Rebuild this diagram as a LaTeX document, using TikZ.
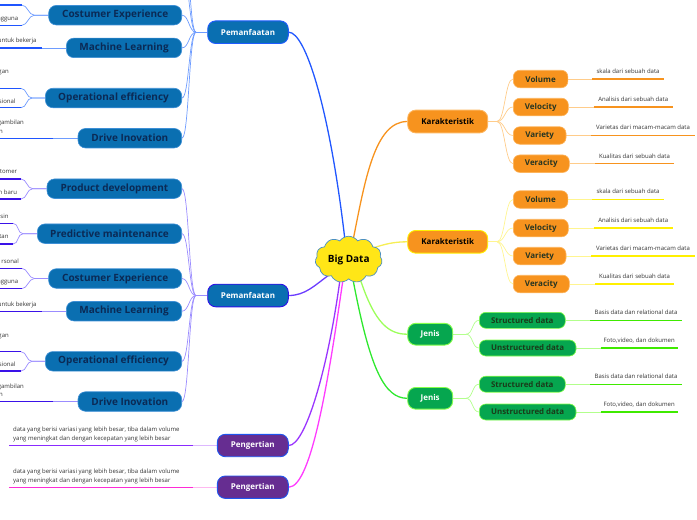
\documentclass[tikz,border=0pt]{standalone}
\usepackage{fontspec}
\setmainfont{Open Sans}
\usetikzlibrary{shapes.symbols}
\pgfdeclarelayer{bg}
\pgfsetlayers{bg,main}
\definecolor{orfill}{HTML}{F7931E}
\definecolor{orbord}{HTML}{FDB45C}
\definecolor{ortext}{HTML}{263522}
\definecolor{orlight}{HTML}{FFCC8A}
\definecolor{yline}{HTML}{F6EE55}
\definecolor{ylight}{HTML}{FFF590}
\definecolor{yunder}{HTML}{FFF000}
\definecolor{grfill}{HTML}{06A64F}
\definecolor{grbord}{HTML}{85FF4A}
\definecolor{grtext}{HTML}{1A3B1A}
\definecolor{gline}{HTML}{9CFF5A}
\definecolor{glinetwo}{HTML}{2EE82E}
\definecolor{glight}{HTML}{B2FF8C}
\definecolor{gunder}{HTML}{3FEA00}
\definecolor{bluefill}{HTML}{0A6FB1}
\definecolor{bluebord}{HTML}{3D8FD6}
\definecolor{bluetext}{HTML}{0B2A55}
\definecolor{pemabord}{HTML}{1F5BFF}
\definecolor{pembbord}{HTML}{2F10E8}
\definecolor{pemaline}{HTML}{2157FF}
\definecolor{pemalight}{HTML}{6E9CFF}
\definecolor{pemaunder}{HTML}{1F55FF}
\definecolor{pembline}{HTML}{6B3CFF}
\definecolor{pemblight}{HTML}{9B8CFF}
\definecolor{pembunder}{HTML}{3A12E8}
\definecolor{pgfill}{HTML}{662D91}
\definecolor{pgbord}{HTML}{1F55EE}
\definecolor{pgaline}{HTML}{9A35FF}
\definecolor{pgaunder}{HTML}{8A2BFF}
\definecolor{pgalight}{HTML}{DDB8FF}
\definecolor{pgbline}{HTML}{FF3BFF}
\definecolor{pgbunder}{HTML}{FF2BD6}
\definecolor{pgblight}{HTML}{FFB8F0}
\definecolor{cloudfill}{HTML}{FFE617}
\definecolor{cloudbord}{HTML}{4A8FC4}
\definecolor{leafgray}{HTML}{333333}
\tikzset{
 fan/.style={line width=0.7pt},
 under/.style={line width=1.2pt},
 bdline/.style={line width=1.3pt},
 ltext/.style={font=\fontsize{6}{7}\selectfont, text=leafgray, inner sep=0pt},
 lefttext/.style={ltext, anchor=base east},
 kbox/.style={fill=orfill, line width=0.9pt, rounded corners=8pt, minimum width=80pt, minimum height=22.7pt, inner sep=0pt, font=\fontsize{8}{9}\selectfont\bfseries, text=black},
 obox/.style={draw=orbord, fill=orfill, line width=0.6pt, rounded corners=6.5pt, minimum height=17.5pt, inner sep=0pt, anchor=west, font=\fontsize{8}{9}\selectfont\bfseries, text=ortext},
 jbox/.style={draw=grbord, fill=grfill, line width=0.9pt, rounded corners=8pt, minimum width=45pt, minimum height=21.7pt, inner sep=0pt, font=\fontsize{8}{9}\selectfont\bfseries, text=white},
 gbox/.style={draw=grbord, fill=grfill, line width=0.6pt, rounded corners=6.5pt, minimum height=16pt, inner sep=0pt, anchor=west, font=\fontsize{7.9}{9}\selectfont\bfseries, text=grtext},
 pembox/.style={fill=bluefill, line width=0.9pt, rounded corners=8pt, minimum width=80.6pt, minimum height=22.6pt, inner sep=0pt, font=\fontsize{8}{9}\selectfont\bfseries, text=white},
 lbox/.style={draw=bluebord, fill=bluefill, line width=0.6pt, rounded corners=7.5pt, minimum height=19.5pt, inner sep=0pt, anchor=east, font=\fontsize{10}{12}\selectfont\bfseries, text=bluetext},
 pgbox/.style={draw=pgbord, fill=pgfill, line width=0.9pt, rounded corners=8pt, minimum width=71pt, minimum height=22.4pt, inner sep=0pt, font=\fontsize{8}{9}\selectfont\bfseries, text=white},
}
% common part of a Pemanfaatan branch: #1 prefix, #2 fan, #3 underline, #4 leaf fan, #5 border
\newcommand{\pemcore}[5]{%
 \node[pembox, draw=#5] (#1pem) at (248,295.5) {Pemanfaatan};
 \node[lbox, minimum width=133pt] (#1cust) at (182,278.5) {Costumer Experience};
 \node[lbox, minimum width=115.3pt] (#1mach) at (182,311.2) {Machine Learning};
 \node[lbox, minimum width=136.3pt] (#1oper) at (182,361.3) {Operational efficiency};
 \node[lbox, minimum width=103.7pt] (#1drive) at (182,401.5) {Drive Inovation};
 \node[lefttext] (#1tF) at (18.3,283.7) {ngguna};
 \node[lefttext] (#1tG) at (36.7,306) {untuk bekerja};
 \node[lefttext] (#1tH) at (9,337) {gan};
 \node[lefttext] (#1tI) at (15.7,366.3) {sional};
 \node[lefttext] (#1tJ) at (24,388) {gambilan};
 \node[lefttext] (#1tK) at (3,396.3) {n};
 \coordinate (#1br) at (196,295.5);
 \coordinate (#1custA) at (21.7,268.3); \coordinate (#1custB) at (21.7,288.7);
 \coordinate (#1machA) at (41.7,311.2);
 \coordinate (#1operA) at (21,351.7); \coordinate (#1operB) at (21,371);
 \coordinate (#1driveA) at (53.3,401.5);
 \begin{pgfonlayer}{bg}
 \draw[fan, draw=#2] (#1pem.west) -- (#1br);
 \foreach \c in {cust,mach,oper,drive}
   \draw[fan, draw=#2] (#1br) .. controls +(-7,0) and +(7,0) .. (#1\c.east);
 \draw[fan, draw=#4] (#1cust.west) -- ++(-14,0) .. controls +(-6,0) and +(6,0) .. (#1custA);
 \draw[fan, draw=#4] (#1cust.west) -- ++(-14,0) .. controls +(-6,0) and +(6,0) .. (#1custB);
 \draw[fan, draw=#4] (#1oper.west) -- ++(-13,0) .. controls +(-6,0) and +(6,0) .. (#1operA);
 \draw[fan, draw=#4] (#1oper.west) -- ++(-13,0) .. controls +(-6,0) and +(6,0) .. (#1operB);
 \draw[fan, draw=#4] (#1mach.west) -- (#1machA);
 \draw[fan, draw=#4] (#1drive.west) -- (#1driveA);
 \foreach \c in {custA,custB,machA,operA,operB,driveA}
   \draw[under, draw=#3] (#1\c) -- ++(-90,0);
 \end{pgfonlayer}}
% #1 prefix, #2 K y, #3-#6 child y, #7 fan, #8 underline, #9 border
\newcommand{\kgroup}[9]{%
 \node[kbox, draw=#9] (#1k) at (447.7,#2) {Karakteristik};
 \node[obox, minimum width=54.6pt] (#1vol) at (513,#3) {Volume};
 \node[obox, minimum width=55pt] (#1vel) at (513,#4) {Velocity};
 \node[obox, minimum width=52.7pt] (#1var) at (513,#5) {Variety};
 \node[obox, minimum width=56pt] (#1ver) at (513,#6) {Veracity};
 \coordinate (#1kbr) at (497,#2);
 \coordinate (#1volA) at (592,#3); \coordinate (#1volB) at (664,#3);
 \coordinate (#1velA) at (593.7,#4); \coordinate (#1velB) at (672.7,#4);
 \coordinate (#1varA) at (591,#5); \coordinate (#1varB) at (695,#5);
 \coordinate (#1verA) at (595,#6); \coordinate (#1verB) at (674,#6);
 \node[ltext, anchor=base] (#1volT) at ({628},{#3-5.6}) {skala dari sebuah data};
 \node[ltext, anchor=base] (#1velT) at ({633.2},{#4-5.6}) {Analisis dari sebuah data};
 \node[ltext, anchor=base] (#1varT) at ({643},{#5-5.6}) {Varietas dari macam-macam data};
 \node[ltext, anchor=base] (#1verT) at ({634.5},{#6-5.6}) {Kualitas dari sebuah data};
 \begin{pgfonlayer}{bg}
 \draw[fan, draw=#7] (#1k.east) -- (#1kbr);
 \foreach \c in {vol,vel,var,ver}
   \draw[fan, draw=#7] (#1kbr) .. controls +(8,0) and +(-8,0) .. (#1\c.west);
 \foreach \c in {vol,vel,var,ver}{
   \draw[fan, draw=#7] (#1\c.east) -- (#1\c A);
   \draw[under, draw=#8] (#1\c A) -- (#1\c B);}
 \end{pgfonlayer}}
% #1 prefix, #2 J y, #3 #4 child y
\newcommand{\jgroup}[4]{%
 \node[jbox] (#1j) at (430.2,#2) {Jenis};
 \node[gbox, minimum width=86pt] (#1st) at (479,#3) {Structured data};
 \node[gbox, minimum width=96.7pt] (#1un) at (479,#4) {Unstructured data};
 \coordinate (#1jbr) at (466,#2);
 \coordinate (#1stA) at (590,#3); \coordinate (#1stB) at (682,#3);
 \coordinate (#1unA) at (600.7,#4); \coordinate (#1unB) at (677.7,#4);
 \node[ltext, anchor=base] (#1stT) at ({636},{#3-5.6}) {Basis data dan relational data};
 \node[ltext, anchor=base] (#1unT) at ({639.2},{#4-5.6}) {Foto,video, dan dokumen};
 \begin{pgfonlayer}{bg}
 \draw[fan, draw=glight] (#1j.east) -- (#1jbr);
 \foreach \c in {st,un}{
   \draw[fan, draw=glight] (#1jbr) .. controls +(7,0) and +(-7,0) .. (#1\c.west);
   \draw[fan, draw=glight] (#1\c.east) -- (#1\c A);
   \draw[under, draw=gunder] (#1\c A) -- (#1\c B);}
 \end{pgfonlayer}}
% #1 prefix, #2 y, #3 light, #4 underline, #5 border
\newcommand{\pggroup}[5]{%
 \node[pgbox, draw=#5] (#1pg) at (252.8,#2) {Pengertian};
 \coordinate (#1pgA) at (193,#2);
 \coordinate (#1pgB) at (9,#2);
 \node[ltext, anchor=base west] (#1pgTa) at ({13},{#2-14.2}) {data yang berisi variasi yang lebih besar, tiba dalam volume};
 \node[ltext, anchor=base west] (#1pgTb) at ({13},{#2-4.6}) {yang meningkat dan dengan kecepatan yang lebih besar};
 \begin{pgfonlayer}{bg}
 \draw[fan, draw=#3] (#1pg.west) -- (#1pgA);
 \draw[under, draw=#4] (#1pgA) -- (#1pgB);
 \end{pgfonlayer}}
\begin{document}
\begin{tikzpicture}[x=1pt,y=-1pt]
\useasboundingbox (0,0) rectangle (697,520);
\clip (0,0) rectangle (697,520);
\node[cloud, cloud puffs=11, cloud puff arc=110, aspect=1.5, draw=cloudbord, fill=cloudfill, line width=0.7pt, minimum width=67pt, minimum height=43pt, inner sep=0pt, font=\fontsize{10}{12}\selectfont\bfseries, text=black] (bd) at (348.7,259.5) {Big Data};
% upper Pemanfaatan branch (its first two children lie above the picture)
\begin{scope}[yshift=263.3pt]
 \pemcore{A}{pemalight}{pemaunder}{pemalight}{pemabord}
 \coordinate (Aprod) at (182,188.7);
 \coordinate (Apred) at (182,233.7);
 \begin{pgfonlayer}{bg}
 \draw[fan, draw=pemalight] (Abr) .. controls +(-7,0) and +(7,0) .. (Aprod);
 \draw[fan, draw=pemalight] (Abr) .. controls +(-7,0) and +(7,0) .. (Apred);
 \end{pgfonlayer}
\end{scope}
% lower Pemanfaatan branch
\pemcore{B}{pemblight}{pembunder}{pemblight}{pembbord}
\node[lbox, minimum width=134.7pt] (Bprod) at (182,188.7) {Product development};
\node[lbox, minimum width=144.3pt] (Bpred) at (182,233.7) {Predictive maintenance};
\node[lefttext] (BtA) at (17.3,173.7) {tomer};
\node[lefttext] (BtB) at (17.3,194.3) {n baru};
\node[lefttext] (BtC) at (8.7,218.7) {sin};
\node[lefttext] (BtD) at (8.7,238.7) {tan};
\node[lefttext] (BtE) at (19,263.7) {rsonal};
\coordinate (BprodA) at (21,179); \coordinate (BprodB) at (21,199);
\coordinate (BpredA) at (13,223.3); \coordinate (BpredB) at (13,244);
\begin{pgfonlayer}{bg}
 \draw[fan, draw=pemblight] (Bbr) .. controls +(-7,0) and +(7,0) .. (Bprod.east);
 \draw[fan, draw=pemblight] (Bbr) .. controls +(-7,0) and +(7,0) .. (Bpred.east);
 \draw[fan, draw=pemblight] (Bprod.west) -- ++(-14,0) .. controls +(-6,0) and +(6,0) .. (BprodA);
 \draw[fan, draw=pemblight] (Bprod.west) -- ++(-14,0) .. controls +(-6,0) and +(6,0) .. (BprodB);
 \draw[fan, draw=pemblight] (Bpred.west) -- ++(-14,0) .. controls +(-6,0) and +(6,0) .. (BpredA);
 \draw[fan, draw=pemblight] (Bpred.west) -- ++(-14,0) .. controls +(-6,0) and +(6,0) .. (BpredB);
 \foreach \c in {BprodA,BprodB,BpredA,BpredB}
   \draw[under, draw=pembunder] (\c) -- ++(-90,0);
\end{pgfonlayer}
\kgroup{P}{121.5}{79}{107}{135.5}{163.7}{orlight}{orfill}{orbord}
\kgroup{Q}{241.8}{199.5}{228}{256}{284}{ylight}{yunder}{yunder}
\jgroup{R}{334.2}{320.3}{348}
\jgroup{S}{398.3}{384.2}{412}
\pggroup{U}{445.5}{pgalight}{pgaunder}{pgbord}
\pggroup{V}{487.2}{pgblight}{pgbunder}{pgbord}
\begin{pgfonlayer}{bg}
\draw[bdline, draw=pemaline] ([shift={(-3.7,-19)}]bd.center) .. controls +(-15,-130) and +(17,0) .. (Apem.east);
\draw[bdline, draw=pembline] ([shift={(-19.7,15.5)}]bd.center) .. controls +(-14,10) and +(16.7,0) .. (Bpem.east);
\draw[bdline, draw=orfill] ([shift={(4.3,-19)}]bd.center) .. controls +(12,-60) and +(-32.7,0) .. (Pk.west);
\draw[bdline, draw=yline] ([shift={(24.3,-11.5)}]bd.center) .. controls +(12,-4) and +(-13,0) .. (Qk.west);
\draw[bdline, draw=gline] ([shift={(11.3,19)}]bd.center) .. controls +(15,46) and +(-17.7,0) .. (Rj.west);
\draw[bdline, draw=glinetwo] ([shift={(4.3,20)}]bd.center) .. controls +(17,90) and +(-22.7,0) .. (Sj.west);
\draw[bdline, draw=pgaline] ([shift={(-8.7,20)}]bd.center) .. controls +(-12,89) and +(16.7,0) .. (Upg.east);
\draw[bdline, draw=pgbline] ([shift={(-5.7,20)}]bd.center) .. controls +(-13,89) and +(23.7,0) .. (Vpg.east);
\end{pgfonlayer}
\end{tikzpicture}
\end{document}
